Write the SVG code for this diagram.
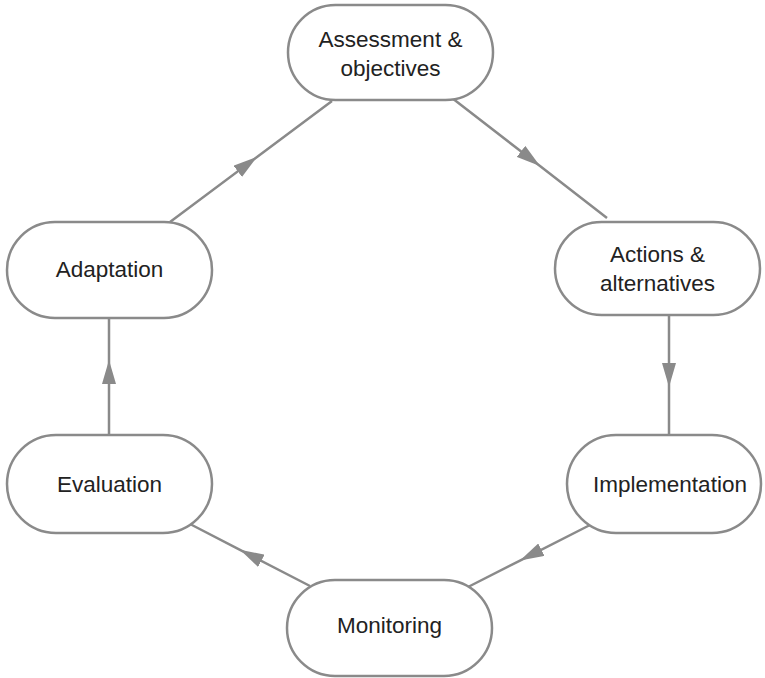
<svg xmlns="http://www.w3.org/2000/svg" width="765" height="678" viewBox="0 0 765 678">
<style>
.n rect{fill:#fff;stroke:#8a8a8a;stroke-width:2.5}
.n text{font-family:"Liberation Sans",Arial,sans-serif;font-size:22.5px;fill:#222;text-anchor:middle}
.c path{fill:none;stroke:#8a8a8a;stroke-width:2.5;marker-mid:url(#ah)}
</style>
<defs>
<marker id="ah" viewBox="0 0 24 14" refX="24" refY="7" markerWidth="24" markerHeight="14" markerUnits="userSpaceOnUse" orient="auto">
<path d="M0,0 L24,7 L0,14 Z" fill="#8a8a8a"/>
</marker>
</defs>
<rect width="765" height="678" fill="#fff"/>
<g class="c">
<path d="M452,98 L540,166.1 L607,218"/>
<path d="M669,315 L669,387 L669,435"/>
<path d="M590,525 L520,560.6 L468,587"/>
<path d="M310,586 L240,549.8 L190,524"/>
<path d="M109,435 L109,360 L109,318"/>
<path d="M170,222 L257,157 L332,101"/>
</g>
<g class="n" id="assessment"><rect x="288" y="5" width="205" height="95" rx="47.5"/><text x="390.5" y="47">Assessment &amp;</text><text x="390.5" y="76">objectives</text></g>
<g class="n" id="actions"><rect x="555" y="222" width="205" height="93" rx="46.5"/><text x="657.5" y="262">Actions &amp;</text><text x="657.5" y="291">alternatives</text></g>
<g class="n" id="implementation"><rect x="567" y="435" width="194" height="98" rx="49"/><text x="670" y="492">Implementation</text></g>
<g class="n" id="monitoring"><rect x="287" y="580" width="205" height="96" rx="48"/><text x="389.5" y="633">Monitoring</text></g>
<g class="n" id="evaluation"><rect x="7" y="435" width="205" height="98" rx="49"/><text x="109.5" y="492">Evaluation</text></g>
<g class="n" id="adaptation"><rect x="7" y="222" width="205" height="96" rx="48"/><text x="109.5" y="277">Adaptation</text></g>
</svg>
